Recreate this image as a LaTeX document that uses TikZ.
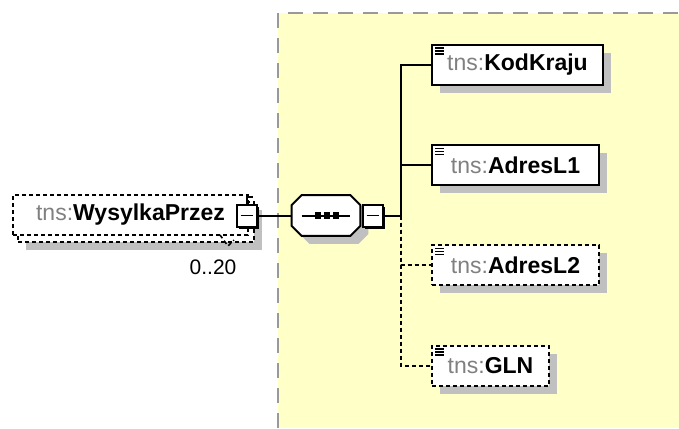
\documentclass[tikz,border=0pt]{standalone}
\usepackage{fontspec}
\setmainfont{Liberation Sans}
\usetikzlibrary{positioning,shadows}
\definecolor{seqyellow}{RGB}{255,255,200}
\definecolor{shade}{RGB}{192,192,192}
\definecolor{prefixgray}{RGB}{128,128,128}
\newcommand{\tnsname}[1]{{\color{prefixgray}tns:}\textbf{#1}}

\begin{document}
\begin{tikzpicture}[x=0.5pt, y=-0.5pt,
    box/.style={draw, fill=white, line width=1pt, inner sep=0pt, minimum height=20pt, anchor=west, font=\fontsize{11.5}{13}\selectfont},
    shadowed/.style={general shadow={fill=shade, shadow xshift=4pt, shadow yshift=-4pt}},
    elem/.style={box, shadowed, path picture={\foreach \k in {0,1,2} \draw[solid, line width=0.8pt] ([shift={(1.5pt,-1.8pt-\k*1.5pt)}]path picture bounding box.north west) -- ++(4.5pt,0);}},
    opt/.style={dash pattern=on 2pt off 1.5pt},
    toggle/.style={draw, fill=white, line width=1pt, minimum width=10pt, minimum height=11pt, inner sep=0pt,
        general shadow={fill=black, shadow xshift=1.2pt, shadow yshift=-1.2pt},
        path picture={\draw[line width=0.7pt] ([xshift=2pt]path picture bounding box.west) -- ([xshift=-2pt]path picture bounding box.east);}},
    link/.style={line width=1pt}
]
    \useasboundingbox (0,0) rectangle (679,428);

    % Sequence area
    \fill[seqyellow] (278,13) rectangle (679,428);
    \draw[gray!80, line width=1pt, dash pattern=on 7.5pt off 5pt] (278,428) -- (278,13) -- (679,13);

    % Repeated element
    \node[box, opt, shadowed, minimum width=118pt] (wysb) at (17,222) {};
    \node[box, opt, minimum width=117.5pt] (wys) at (12,215) {\tnsname{WysylkaPrzez}};
    \draw[opt, line width=0.8pt] (220,235) -- (228,246) -- (234,240);
    \node[font=\fontsize{10.5}{12}\selectfont] (occ) at (213,267) {0..20};
    \node[toggle] (wysm) at (246.5,215.5) {};
    \draw[link] (wysm.north) -- ++(0,-7) -- ++(6,0);

    % Sequence compositor
    \node[minimum width=34pt, minimum height=20pt, inner sep=0pt] (seq) at (326,215.5) {};
    \draw[link, fill=white, shadowed] ([xshift=5pt]seq.north west) -- ([xshift=-5pt]seq.north east) -- ([yshift=-5pt]seq.north east) -- ([yshift=5pt]seq.south east) -- ([xshift=-5pt]seq.south east) -- ([xshift=5pt]seq.south west) -- ([yshift=5pt]seq.south west) -- ([yshift=-5pt]seq.north west) -- cycle;
    \draw[link] ([xshift=5pt]seq.west) -- ([xshift=-5pt]seq.east);
    \foreach \x in {318,327,336} \fill (\x,215.5) +(-1.7pt,-1.7pt) rectangle +(1.7pt,1.7pt);
    \node[toggle] (seqm) at (372.5,215.5) {};
    \coordinate (trunk) at (401,215.5);

    % Child elements
    \node[elem, minimum width=85.5pt] (kod) at (431,64.5) {\tnsname{KodKraju}};
    \node[elem, minimum width=83.5pt] (adr1) at (431,165) {\tnsname{AdresL1}};
    \node[elem, opt, minimum width=83.5pt] (adr2) at (431,265) {\tnsname{AdresL2}};
    \node[elem, opt, minimum width=58.5pt] (gln) at (431,365.5) {\tnsname{GLN}};

    % Connectors
    \draw[link] (wysm) -- (seq);
    \draw[link] (seqm) -- (trunk);
    \draw[link] (trunk) |- (kod);
    \draw[link] (trunk) |- (adr1);
    \draw[link, opt] (trunk) |- (adr2);
    \draw[link, opt] (trunk) |- (gln);
\end{tikzpicture}
\end{document}
